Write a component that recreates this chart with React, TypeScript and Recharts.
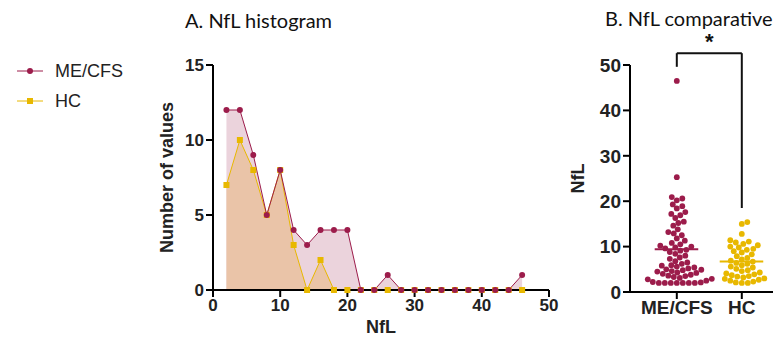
import React from "react";
import {
  ComposedChart,
  Area,
  Line,
  XAxis,
  YAxis,
  ScatterChart,
  Scatter,
  ReferenceLine,
} from "recharts";

// ---------------------------------------------------------------------------
// Data
// ---------------------------------------------------------------------------

const binCenters = [
  2, 4, 6, 8, 10, 12, 14, 16, 18, 20, 22, 24, 26, 28, 30, 32, 34, 36, 38, 40,
  42, 44, 46,
];
const meCfsCounts = [
  12, 12, 9, 5, 8, 4, 3, 4, 4, 4, 0, 0, 1, 0, 0, 0, 0, 0, 0, 0, 0, 0, 1,
];
const hcCounts = [
  7, 10, 8, 5, 8, 3, 0, 2, 0, 0, 0, 0, 0, 0, 0, 0, 0, 0, 0, 0, 0, 0, 0,
];

const groups = ["ME/CFS", "HC"];

const meCfsValues = [
  2.0, 2.0, 2.0, 2.0, 2.0, 2.0, 2.0, 2.1, 2.2, 2.5, 2.8, 2.9,
  3.1, 3.3, 3.5, 3.6, 3.8, 4.0, 4.2, 4.3, 4.5, 4.6, 4.8, 4.9,
  5.0, 5.2, 5.4, 5.6, 5.8, 5.9, 6.2, 6.5, 6.8,
  7.3, 7.6, 8.0, 8.4, 8.8,
  9.1, 9.3, 9.6, 9.8, 10.0, 10.2, 10.5, 10.8,
  11.3, 11.8, 12.5, 12.9,
  13.2, 13.8, 14.6,
  15.2, 15.5, 16.3, 16.9,
  17.2, 17.6, 18.4, 18.9,
  19.3, 20.2, 20.6, 20.9,
  25.3, 46.5,
];
const hcValues = [
  2.0, 2.0, 2.1, 2.3, 2.5, 2.7, 2.9,
  3.0, 3.2, 3.4, 3.5, 3.7, 3.9, 4.1, 4.3, 4.6, 4.8,
  5.1, 5.4, 5.6, 5.9, 6.2, 6.4, 6.7, 6.9,
  7.2, 7.5, 7.9, 8.3, 8.7,
  9.0, 9.3, 9.5, 9.8, 10.0, 10.3, 10.6, 10.9,
  11.1, 11.4, 12.8,
  15.0, 15.4,
];

const meCfsMean = 9.4;
const hcMean = 6.7;
const significance = "*";

// ---------------------------------------------------------------------------
// Styling
// ---------------------------------------------------------------------------

const ME_COLOR = "#9c1c4b";
const HC_COLOR = "#e8b800";
const ME_FILL = "#ebd3dc";
const HC_FILL = "#eac4a8";
const FONT = "'Liberation Sans', Arial, sans-serif";
const TITLE_FONT = "Lato, 'Open Sans', sans-serif";

const axisLine = { stroke: "#000", strokeWidth: 2 };

// scatter pixel scales (plot: 226 px for 0..50, 65 px per group)
const PX_PER_Y = 226 / 50;
const PX_PER_X = 65;
const DOT_R = 2.9;
const DOT_GAP = 5.6; // dots in the swarm may overlap a little

// simple beeswarm: nudge each point sideways until it no longer overlaps
function swarm(values: number[], center: number) {
  const placed: { dx: number; py: number }[] = [];
  const sorted = [...values].sort((a, b) => a - b);
  return sorted.map((v) => {
    const py = v * PX_PER_Y;
    let dx = 0;
    for (let k = 0; k < 400; k++) {
      const cand = (k % 2 === 1 ? 1 : -1) * Math.ceil(k / 2) * 0.5;
      const hit = placed.some(
        (p) => (p.dx - cand) ** 2 + (p.py - py) ** 2 < DOT_GAP * DOT_GAP
      );
      if (!hit) {
        dx = cand;
        break;
      }
    }
    placed.push({ dx, py });
    return { x: center + dx / PX_PER_X, y: v };
  });
}

const histData = binCenters.map((x, i) => ({
  nfl: x,
  me: meCfsCounts[i],
  hc: hcCounts[i],
}));

const meCfsPoints = swarm(meCfsValues, 1);
const hcPoints = swarm(hcValues, 2);
const meCfsMeanLine = [
  { x: 0.66, y: meCfsMean },
  { x: 1.33, y: meCfsMean },
];
const hcMeanLine = [
  { x: 1.66, y: hcMean },
  { x: 2.33, y: hcMean },
];

// ---------------------------------------------------------------------------
// Pieces
// ---------------------------------------------------------------------------

function Legend() {
  const rows = [
    { name: groups[0], color: ME_COLOR, square: false, top: 71 },
    { name: groups[1], color: HC_COLOR, square: true, top: 101 },
  ];
  return (
    <>
      {rows.map((r) => (
        <div
          key={r.name}
          style={{
            position: "absolute",
            left: 16,
            top: r.top - 12,
            height: 24,
            display: "flex",
            alignItems: "center",
            fontFamily: FONT,
            fontSize: 18,
            color: "#222",
          }}
        >
          <svg width={28} height={10} style={{ marginRight: 11 }}>
            <line x1={1} y1={5} x2={27} y2={5} stroke={r.color} strokeWidth={1} />
            {r.square ? (
              <rect x={11} y={2} width={6} height={6} fill={r.color} />
            ) : (
              <circle cx={14} cy={5} r={3} fill={r.color} />
            )}
          </svg>
          {r.name}
        </div>
      ))}
    </>
  );
}

function Title({ text, left, top }: { text: string; left: number; top: number }) {
  return (
    <div
      style={{
        position: "absolute",
        left,
        top,
        fontFamily: TITLE_FONT,
        fontSize: 20,
        color: "#111",
        whiteSpace: "nowrap",
      }}
    >
      {text}
    </div>
  );
}

const yTitle = (text: string, dx: number) => (props: any) => {
  const vb = props.viewBox;
  const cx = vb.x + dx;
  const cy = vb.y + vb.height / 2;
  return (
    <text
      x={cx}
      y={cy}
      transform={`rotate(-90 ${cx} ${cy})`}
      textAnchor="middle"
      dominantBaseline="central"
      fontFamily={FONT}
      fontSize={18}
      fontWeight={700}
      fill="#222"
    >
      {text}
    </text>
  );
};

const xTitle = (text: string, dy: number) => (props: any) => {
  const vb = props.viewBox;
  return (
    <text
      x={vb.x + vb.width / 2}
      y={vb.y + dy}
      textAnchor="middle"
      dominantBaseline="central"
      fontFamily={FONT}
      fontSize={18}
      fontWeight={700}
      fill="#222"
    >
      {text}
    </text>
  );
};

const squareDot = (p: any) => (
  <rect
    key={`hc-${p.index}`}
    x={p.cx - 3}
    y={p.cy - 3}
    width={6}
    height={6}
    fill={HC_COLOR}
  />
);

const roundDot = (p: any) => (
  <circle key={`me-${p.index}`} cx={p.cx} cy={p.cy} r={3} fill={ME_COLOR} />
);

const noShape = () => <g />;

// ---------------------------------------------------------------------------
// App
// ---------------------------------------------------------------------------

export default function App() {
  const tick = { fill: "#222", fontSize: 17, fontWeight: 700, fontFamily: FONT };
  const tickB = { ...tick, fontSize: 19 };
  return (
    <div
      style={{
        position: "absolute",
        left: 0,
        top: 0,
        width: 776,
        height: 347,
        background: "#fff",
        overflow: "hidden",
      }}
    >
      <Title text="A. NfL histogram" left={185} top={8} />
      <Title text="B. NfL comparative" left={605} top={6} />
      <Legend />

      <div style={{ position: "absolute", left: 0, top: 0 }}>
        <ComposedChart
          width={560}
          height={347}
          data={histData}
          margin={{ top: 65, right: 11, bottom: 12, left: 150 }}
        >
          <XAxis
            dataKey="nfl"
            type="number"
            domain={[0, 50]}
            ticks={[0, 10, 20, 30, 40, 50]}
            axisLine={axisLine}
            tickLine={axisLine}
            tickSize={7}
            tick={tick}
            height={45}
            label={xTitle("NfL", 37)}
          />
          <YAxis
            type="number"
            domain={[0, 15]}
            ticks={[0, 5, 10, 15]}
            axisLine={axisLine}
            tickLine={axisLine}
            tickSize={7}
            tick={tick}
            width={63}
            label={yTitle("Number of values", 17)}
          />
          <Area
            dataKey="me"
            type="linear"
            stroke="none"
            fill={ME_FILL}
            fillOpacity={1}
            dot={false}
            activeDot={false}
            isAnimationActive={false}
          />
          <Area
            dataKey="hc"
            type="linear"
            stroke="none"
            fill={HC_FILL}
            fillOpacity={1}
            dot={false}
            activeDot={false}
            isAnimationActive={false}
          />
          <Line
            dataKey="hc"
            type="linear"
            stroke={HC_COLOR}
            strokeWidth={1}
            dot={squareDot}
            activeDot={false}
            isAnimationActive={false}
          />
          <Line
            dataKey="me"
            type="linear"
            stroke={ME_COLOR}
            strokeWidth={1}
            dot={roundDot}
            activeDot={false}
            isAnimationActive={false}
          />
        </ComposedChart>
      </div>

      <div style={{ position: "absolute", left: 560, top: 0 }}>
        <ScatterChart
          width={216}
          height={347}
          margin={{ top: 65, right: 3, bottom: 0, left: 0 }}
        >
          <XAxis
            dataKey="x"
            type="number"
            domain={[0.28, 2.48]}
            ticks={[1, 2]}
            tickFormatter={(v: number) => groups[v - 1]}
            axisLine={axisLine}
            tickLine={axisLine}
            tickSize={7}
            tick={tickB}
            height={55}
          />
          <YAxis
            dataKey="y"
            type="number"
            domain={[0, 50]}
            ticks={[0, 10, 20, 30, 40, 50]}
            axisLine={axisLine}
            tickLine={axisLine}
            tickSize={7}
            tick={tickB}
            width={70}
            label={yTitle("NfL", 18)}
          />
          <Scatter
            data={meCfsPoints}
            fill={ME_COLOR}
            shape={(p: any) => <circle cx={p.cx} cy={p.cy} r={DOT_R} fill={ME_COLOR} />}
            isAnimationActive={false}
          />
          <Scatter
            data={hcPoints}
            fill={HC_COLOR}
            shape={(p: any) => <circle cx={p.cx} cy={p.cy} r={DOT_R} fill={HC_COLOR} />}
            isAnimationActive={false}
          />
          <Scatter
            data={meCfsMeanLine}
            line={{ stroke: ME_COLOR, strokeWidth: 2 }}
            shape={noShape}
            isAnimationActive={false}
          />
          <Scatter
            data={hcMeanLine}
            line={{ stroke: HC_COLOR, strokeWidth: 2 }}
            shape={noShape}
            isAnimationActive={false}
          />
          <ReferenceLine
            segment={[{ x: 1, y: 49.6 }, { x: 1, y: 52.6 }]}
            stroke="#111"
            strokeWidth={2}
            ifOverflow="visible"
          />
          <ReferenceLine
            segment={[{ x: 1, y: 52.6 }, { x: 2, y: 52.6 }]}
            stroke="#111"
            strokeWidth={2}
            ifOverflow="visible"
            label={{
              value: significance,
              position: "top",
              offset: 4,
              fill: "#111",
              fontSize: 22,
              fontWeight: 700,
              fontFamily: FONT,
            }}
          />
          <ReferenceLine
            segment={[{ x: 2, y: 52.6 }, { x: 2, y: 18.5 }]}
            stroke="#111"
            strokeWidth={2}
            ifOverflow="visible"
          />
        </ScatterChart>
      </div>
    </div>
  );
}
